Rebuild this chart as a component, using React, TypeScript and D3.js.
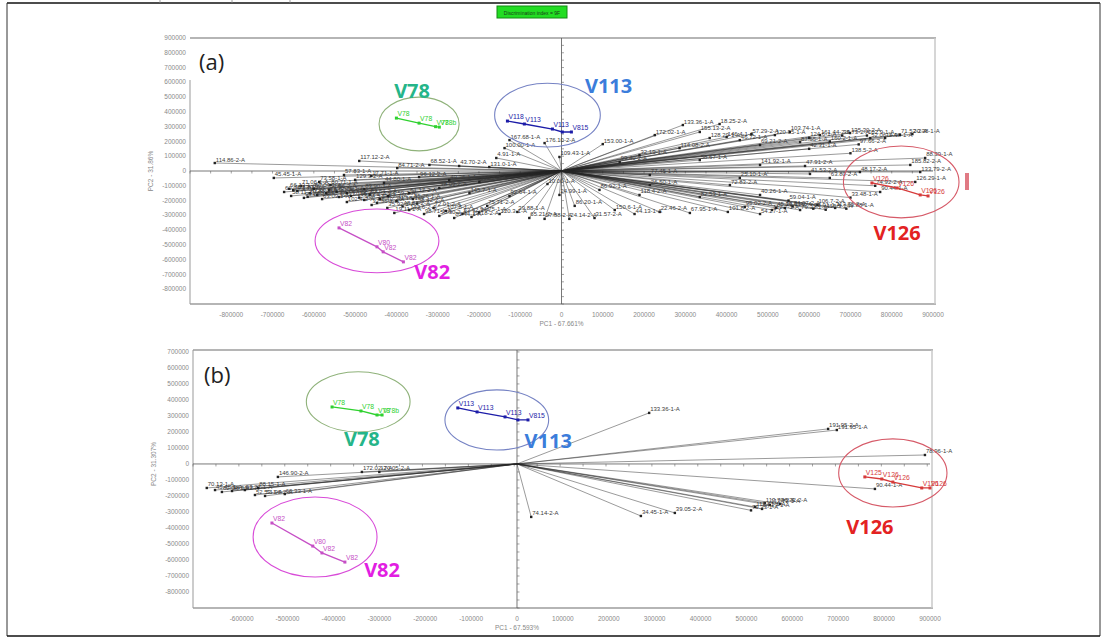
import * as d3 from 'd3';

// loadings are in thousands: [label, PC1, PC2]
type Pt = [string, number, number];

const loadingsA: Pt[] = [
  ['114.86-2-A', -840, 54], ['117.12-2-A', -490, 68], ['45.45-1-A', -697, -47],
  ['71.06-1-A', -631, -101], ['62.04-1-A', -672, -142], ['58.11-2-A', -655, -169],
  ['93.27-1-A', -624, -182], ['88.15-1-A', -592, -162], ['51.96-2-A', -563, -128],
  ['60.33-1-A', -539, -176], ['77.02-2-A', -510, -169], ['104.5-1-A', -478, -196],
  ['66.40-2-A', -447, -216], ['35.92-1-A', -422, -250], ['19.11-1-A', -405, -284],
  ['142.6-2-A', -369, -264], ['98.71-1-A', -333, -291], ['55.30-2-A', -296, -304],
  ['81.44-1-A', -260, -318], ['29.18-2-A', -218, -311], ['75.71-2-A', -180, -236],
  ['120.3-1-A', -150, -291], ['39.88-1-A', -107, -277], ['65.21-2-A', -78, -318],
  ['27.88-2-A', -41, -324], ['24.14-2-A', 19, -324], ['86.20-1-A', 32, -236],
  ['24.99-1-A', -5, -162], ['10.00-1-A', -34, -88], ['84.71-2-A', -398, 20],
  ['68.52-1-A', -320, 41], ['43.70-2-A', -248, 34], ['131.0-1-A', -175, 27],
  ['57.83-1-A', -527, -27], ['17.71-1-A', -461, -34], ['96.12-2-A', -345, -41],
  ['49.36-1-A', -272, -61], ['110.2-2-A', -199, -74], ['73.58-1-A', -587, -74],
  ['38.09-2-A', -296, -115], ['145.7-1-A', -223, -149], ['92.64-1-A', -126, -169],
  ['61.17-2-A', -369, -149], ['83.90-1-A', -478, -122], ['167.68-1-A', -126, 209],
  ['100.00-1-A', -138, 155], ['4.91-1-A', -158, 88], ['109.43-1-A', -5, 95],
  ['176.10-2-A', -41, 189], ['70.13-1-A', -650, -130], ['47.20-2-A', -610, -150],
  ['63.09-1-A', -580, -190], ['102.4-2-A', -520, -210], ['37.55-1-A', -460, -230],
  ['91.18-1-A', -400, -205], ['56.42-2-A', -350, -220], ['80.71-1-A', -560, -95],
  ['129.3-2-A', -500, -60], ['44.80-1-A', -430, -80],
  ['66.13-1-A', -660, -120], ['52.70-2-A', -640, -135], ['89.04-1-A', -600, -120],
  ['41.66-2-A', -615, -175], ['118.9-1-A', -570, -150], ['30.25-1-A', -545, -140],
  ['76.38-2-A', -520, -150], ['99.17-1-A', -490, -180], ['23.64-2-A', -465, -160],
  ['137.2-1-A', -440, -190], ['64.59-1-A', -420, -170], ['48.83-2-A', -385, -240],
  ['85.26-1-A', -360, -190], ['72.01-2-A', -310, -250], ['107.8-1-A', -280, -270],
  ['53.42-2-A', -240, -290], ['94.75-1-A', -200, -280],
  ['153.00-1-A', 100, 182], ['172.02-1-A', 226, 243], ['133.36-1-A', 294, 311],
  ['18.25-2-A', 383, 318], ['155.13-2-A', 335, 264], ['128.29-1-A', 359, 223],
  ['46.72-1-A', 432, 209], ['120.35-1-A', 517, 243], ['103.74-1-A', 553, 264],
  ['161.44-2-A', 626, 243], ['135.30-2-A', 699, 257], ['52.06-1-A', 748, 223],
  ['14.98-1-A', 784, 223], ['69.21-2-A', 481, 176], ['87.55-1-A', 578, 196],
  ['114.08-2-A', 286, 155], ['32.19-1-A', 189, 108], ['99.40-2-A', 141, 61],
  ['58.67-1-A', 335, 74], ['141.92-1-A', 481, 41], ['47.91-2-A', 590, 34],
  ['41.53-2-A', 602, -20], ['48.17-2-A', 723, -7], ['185.82-2-A', 845, 41],
  ['88.39-1-A', 881, 88], ['133.79-2-A', 869, -7], ['126.29-1-A', 857, -74],
  ['90.44-1-A', 772, -142], ['63.80-2-A', 650, -47], ['25.10-1-A', 432, -47],
  ['77.45-1-A', 214, -27], ['82.53-1-A', 335, -176], ['95.02-2-A', 444, -243],
  ['112.7-1-A', 510, -264], ['36.61-2-A', 541, -250], ['79.33-1-A', 578, -264],
  ['113.70-2-A', 663, -250], ['54.27-1-A', 481, -291], ['101.8-2-A', 403, -277],
  ['67.95-1-A', 311, -284], ['22.46-2-A', 238, -277], ['44.13-1-A', 177, -291],
  ['150.6-1-A', 129, -264], ['31.57-2-A', 80, -318], ['86.92-1-A', 92, -128],
  ['118.4-2-A', 189, -162], ['40.26-1-A', 481, -162], ['72.83-2-A', 408, -95],
  ['26.50-1-A', 214, -95], ['160.2-1-A', 650, 200], ['97.66-2-A', 720, 180],
  ['42.31-1-A', 600, 150], ['138.5-2-A', 700, 120], ['59.04-1-A', 550, -200],
  ['106.7-2-A', 620, -230], ['33.48-1-A', 700, -180], ['74.92-2-A', 760, -100],
  ['28.91-1-A', 610, -255], ['115.3-2-A', 640, -262], ['61.88-1-A', 690, -255],
  ['84.07-2-A', 560, -240], ['45.19-1-A', 520, -250], ['146.4-1-A', 400, 230],
  ['57.29-2-A', 460, 250], ['124.6-1-A', 600, 225], ['35.73-2-A', 680, 240],
  ['102.9-1-A', 740, 240], ['71.52-2-A', 820, 245], ['20.38-1-A', 850, 250],
];

const loadingsB: Pt[] = [
  ['133.36-1-A', 288, 319], ['191.95-2-A', 678, 219], ['191.95-1-A', 697, 212],
  ['78.96-1-A', 889, 56], ['90.44-1-A', 780, -156], ['113.70-2-A', 540, -244],
  ['113.72-1-A', 551, -256], ['46.72-2-A', 573, -250], ['112.71-1-A', 519, -269],
  ['54.27-1-A', 534, -281], ['79.33-1-A', 510, -290], ['34.45-1-A', 270, -325],
  ['39.05-2-A', 344, -306], ['74.14-2-A', 31, -331], ['146.90-2-A', -521, -81],
  ['172.02-2-A', -338, -50], ['170.05-2-A', -300, -50], ['70.13-1-A', -676, -150],
  ['45.45-1-A', -658, -163], ['62.04-1-A', -643, -175], ['58.11-2-A', -621, -169],
  ['93.27-1-A', -593, -163], ['88.15-1-A', -564, -150], ['52.53-1-A', -571, -194],
  ['51.96-2-A', -549, -200], ['60.33-1-A', -506, -188],
];

// sample groups (thousands)
const v78A: Pt[] = [['V78', -400, 358], ['V78', -345, 324], ['V78', -305, 300], ['V78b', -296, 297]];
const v113A: Pt[] = [['V118', -131, 338], ['V113', -90, 318], ['V113', -22, 284], ['', 2, 264], ['V815', 24, 264]];
const v82A: Pt[] = [['V82', -539, -385], ['V80', -447, -513], ['V82', -432, -547], ['V82', -383, -615]];
const v126A: Pt[] = [['V126', 752, -81], ['V126', 813, -115], ['V126', 869, -162], ['V126', 888, -169]];

const v78B: Pt[] = [['V78', -403, 356], ['V78', -340, 331], ['V78', -305, 306], ['V78b', -294, 306]];
const v113B: Pt[] = [['V113', -129, 350], ['V113', -87, 325], ['V113', -26, 294], ['', 2, 275], ['V815', 24, 275]];
const v82B: Pt[] = [['V82', -534, -369], ['V80', -445, -513], ['V82', -425, -556], ['V82', -375, -613]];
const v126B: Pt[] = [['V125', 758, -81], ['V126', 795, -94], ['V126', 819, -113], ['V126', 882, -150], ['V126', 900, -150]];

// ellipses: [cx, cy, rx, ry] in thousands
const ellA = { v78: [-345, 318, 97, 182], v113: [-34, 378, 128, 216], v82: [-447, -473, 150, 216], v126: [823, -74, 140, 243] };
const ellB = { v78: [-346, 388, 113, 188], v113: [-44, 275, 113, 188], v82: [-440, -456, 135, 250], v126: [819, -56, 118, 213] };
// big group labels: [x, y] in thousands
const tagA = { v78: [-362, 540], v113: [114, 574], v82: [-313, -682], v126: [813, -419] };
const tagB = { v78: [-338, 156], v113: [68, 144], v82: [-294, -663], v126: [769, -394] };

const xTicksA = d3.range(-800000, 900001, 100000);
const yTicksA = d3.range(-800000, 900001, 100000);
const xTicksB = d3.range(-600000, 900001, 100000);
const yTicksB = d3.range(-800000, 700001, 100000);

const COLORS = {
  v78: { line: '#2fd12f', ell: '#8fb27a', tag: '#25b589' },
  v113: { line: '#1c1ca8', ell: '#7683c4', tag: '#3b7ddb' },
  v82: { line: '#c64fc6', ell: '#d84bd8', tag: '#e21ee2' },
  v126: { line: '#d63a3a', ell: '#d65a68', tag: '#e32222' },
};
const FONT = '"Liberation Sans", Arial, sans-serif';
const TAGFONT = '"Open Sans", "Noto Sans", sans-serif';

interface PanelProps {
  x: d3.ScaleLinear<number, number>;
  y: d3.ScaleLinear<number, number>;
  xTicks: number[];
  yTicks: number[];
  loadings: Pt[];
  groups: { key: keyof typeof COLORS; pts: Pt[] }[];
  ell: Record<string, number[]>;
  tags: Record<string, number[]>;
  xTitle: string;
  yTitle: string;
  tag: string;
  tagPos: [number, number];
  leftFrom: number;
}

function Panel({ x, y, xTicks, yTicks, loadings, groups, ell, tags, xTitle, yTitle, tag, tagPos, leftFrom }: PanelProps) {
  const [x0, x1] = x.range();
  const [y1, y0] = y.range();
  const ox = x(0);
  const oy = y(0);
  const k = (v: number) => v * 1000;
  const minorX = d3.range(x.domain()[0], x.domain()[1], 50000);
  const minorY = d3.range(y.domain()[0], y.domain()[1], 50000);

  return (
    <g>
      {/* frame */}
      <line x1={x0} x2={x1 + 3} y1={y0} y2={y0} stroke="#b5b5b5" strokeWidth={2} />
      <line x1={x0} x2={x1 + 3} y1={y1} y2={y1} stroke="#b5b5b5" strokeWidth={2} />
      <line x1={x1 + 2} x2={x1 + 2} y1={y0} y2={y1} stroke="#c8c8c8" strokeWidth={1.5} />
      <line x1={x0} x2={x0} y1={leftFrom} y2={y1} stroke="#999" strokeWidth={1} />

      {yTicks.map(t => (
        <text key={'y' + t} x={x0 - 4} y={y(t)} dy="0.33em" textAnchor="end"
          fontSize={6.5} fill="#8a8a8a" fontFamily={FONT}>{String(t)}</text>
      ))}
      {xTicks.map(t => (
        <text key={'x' + t} x={x(t)} y={y1 + 13} textAnchor="middle"
          fontSize={6.5} fill="#8a8a8a" fontFamily={FONT}>{String(t)}</text>
      ))}
      <text x={ox} y={y1 + 22} textAnchor="middle" fontSize={6.5} fill="#888" fontFamily={FONT}>{xTitle}</text>
      <text transform={`translate(${x0 - 37},${oy}) rotate(-90)`} textAnchor="middle"
        fontSize={6.5} fill="#888" fontFamily={FONT}>{yTitle}</text>

      {/* crosshair axes */}
      <line x1={x0} x2={x1} y1={oy} y2={oy} stroke="#555" strokeWidth={0.8} />
      <line x1={ox} x2={ox} y1={y0} y2={y1} stroke="#555" strokeWidth={0.8} />
      {minorX.map(t => (
        <line key={'mx' + t} x1={x(t)} x2={x(t)} y1={oy} y2={oy + 2.5} stroke="#666" strokeWidth={0.6} />
      ))}
      {minorY.map(t => (
        <line key={'my' + t} x1={ox} x2={ox + 2.5} y1={y(t)} y2={y(t)} stroke="#666" strokeWidth={0.6} />
      ))}

      {/* loading vectors */}
      {loadings.map(([, a, b], i) => (
        <line key={'l' + i} x1={ox} y1={oy} x2={x(k(a))} y2={y(k(b))} stroke="#262626" strokeWidth={0.55} strokeOpacity={0.85} />
      ))}
      {loadings.map(([lab, a, b], i) => (
        <g key={'p' + i}>
          <rect x={x(k(a)) - 1.2} y={y(k(b)) - 1.2} width={2.4} height={2.4} fill="#222" />
          <text x={x(k(a)) + 1} y={y(k(b)) - 1.5} fontSize={6} fill="#3a3a3a" fontFamily={FONT}>{lab}</text>
        </g>
      ))}

      {/* sample groups */}
      {groups.map(({ key, pts }) => {
        const c = COLORS[key];
        const e = ell[key];
        const line = d3.line<Pt>().x(d => x(k(d[1]))).y(d => y(k(d[2])));
        const rx = x(k(e[2])) - x(0);
        const ry = y(0) - y(k(e[3]));
        const tg = tags[key];
        return (
          <g key={key}>
            <ellipse cx={x(k(e[0]))} cy={y(k(e[1]))} rx={rx} ry={ry} fill="none" stroke={c.ell} strokeWidth={1.1} />
            <path d={line(pts) || ''} fill="none" stroke={c.line} strokeWidth={1.3} />
            {pts.map(([lab, a, b], i) => (
              <g key={i}>
                <rect x={x(k(a)) - 1.5} y={y(k(b)) - 1.5} width={3} height={3} fill={c.line} />
                <text x={x(k(a)) + 1} y={y(k(b)) - 2} fontSize={6.8} fill={c.line} fontFamily={FONT}>{lab}</text>
              </g>
            ))}
            <text x={x(k(tg[0]))} y={y(k(tg[1]))} dy="0.35em" textAnchor="middle" fontSize={20}
              fontWeight="bold" fill={c.tag} fontFamily={TAGFONT}>{key.toUpperCase()}</text>
          </g>
        );
      })}

      <text x={tagPos[0]} y={tagPos[1]} fontSize={22} fill="#222" fontFamily={TAGFONT}>{tag}</text>
    </g>
  );
}

export default function App() {
  const xA = d3.scaleLinear().domain([-900000, 900000]).range([190, 933]);
  const yA = d3.scaleLinear().domain([-900000, 900000]).range([304, 38]);
  const xB = d3.scaleLinear().domain([-706000, 900000]).range([193, 930]);
  const yB = d3.scaleLinear().domain([-900000, 712000]).range([608, 350]);

  return (
    <svg width={1105} height={643} style={{ position: 'absolute', left: 0, top: 0, background: '#fff' }}>
      <rect x={0} y={0} width={1105} height={643} fill="#fff" />
      {/* page frame */}
      <line x1={7} x2={1100} y1={3} y2={3} stroke="#111" strokeWidth={1.5} />
      <line x1={7} x2={7} y1={3} y2={636} stroke="#333" strokeWidth={1} />
      <line x1={1100} x2={1100} y1={3} y2={636} stroke="#333" strokeWidth={1} />
      <line x1={7} x2={1100} y1={636} y2={636} stroke="#111" strokeWidth={1.5} />
      {[160, 232, 290].map(v => (
        <line key={v} x1={v} x2={v} y1={0} y2={3} stroke="#888" strokeWidth={0.8} />
      ))}

      {/* discrimination index badge */}
      <rect x={497} y={6} width={70} height={12} fill="#22dd22" stroke="#138a13" strokeWidth={1} />
      <text x={532} y={14.5} textAnchor="middle" fontSize={5} fill="#1a3a1a" fontFamily={FONT}>Discrimination index = 9F</text>

      <Panel x={xA} y={yA} xTicks={xTicksA} yTicks={yTicksA} loadings={loadingsA}
        groups={[{ key: 'v78', pts: v78A }, { key: 'v113', pts: v113A }, { key: 'v82', pts: v82A }, { key: 'v126', pts: v126A }]}
        ell={ellA} tags={tagA} xTitle="PC1 - 67.661%" yTitle="PC2 - 31.86%" tag="(a)" tagPos={[199, 70]} leftFrom={80} />
      <rect x={965} y={173} width={4} height={17} fill="#e07a84" />

      <Panel x={xB} y={yB} xTicks={xTicksB} yTicks={yTicksB} loadings={loadingsB}
        groups={[{ key: 'v78', pts: v78B }, { key: 'v113', pts: v113B }, { key: 'v82', pts: v82B }, { key: 'v126', pts: v126B }]}
        ell={ellB} tags={tagB} xTitle="PC1 - 67.593%" yTitle="PC2 - 31.307%" tag="(b)" tagPos={[204, 383]} leftFrom={350} />
    </svg>
  );
}
